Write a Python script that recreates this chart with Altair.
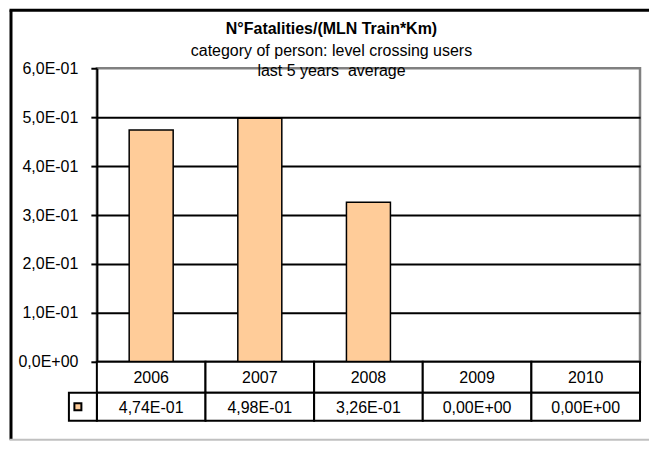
import altair as alt
import pandas as pd

# ---- data ----
years = ["2006", "2007", "2008", "2009", "2010"]
values = [0.474, 0.498, 0.326, 0.0, 0.0]
y_ticks = [0.0, 0.1, 0.2, 0.3, 0.4, 0.5, 0.6]
title_text = ["N°Fatalities/(MLN Train*Km)"]
subtitle_1 = ["category of person: level crossing users"]
subtitle_2 = ["last 5 years\u00a0 average"]
series = ["N°Fatalities/(MLN Train*Km)"]


def sci(v):
    return f"{v:.2e}".replace(".", ",").replace("e", "E")


df = pd.DataFrame({"year": years, "value": values, "label": [sci(v) for v in values]})
key_df = pd.DataFrame({"series": series})

W, H = 544, 294
ROW1, ROW2 = 31, 28
FONT = "Liberation Sans"
FS = 16
PEACH = "#FFCC99"

x = alt.X("year:N", sort=years, scale=alt.Scale(paddingInner=0, paddingOuter=0), axis=None)
y = alt.Y(
    "value:Q",
    scale=alt.Scale(domain=[0, 0.6], nice=False),
    axis=alt.Axis(
        values=y_ticks,
        labelExpr="datum.value == 0 ? '0,0E+00' : replace(format(datum.value * 10, '.1f'), '.', ',') + 'E-01'",
        grid=True,
        gridColor="black",
        gridWidth=2,
        gridOpacity={"condition": {"test": "datum.value > 0.55", "value": 0}, "value": 1},
        domainColor="black",
        domainWidth=2,
        tickColor="black",
        tickWidth=2,
        tickSize=6,
        labelPadding=13,
        labelFont=FONT,
        labelFontSize=FS,
        labelColor="black",
        title=None,
    ),
)

base = alt.Chart(df)

bars = base.mark_bar(width={"band": 0.405}, fill=PEACH, stroke="black", strokeWidth=1.5).encode(x=x, y=y)

year_cells = base.mark_rect(fill="white", stroke="black", strokeWidth=2).encode(
    x=x, y=alt.value(H), y2=alt.value(H + ROW1)
)
value_cells = base.mark_rect(fill="white", stroke="black", strokeWidth=2).encode(
    x=x, y=alt.value(H + ROW1), y2=alt.value(H + ROW1 + ROW2)
)
year_text = base.mark_text(font=FONT, fontSize=FS, color="black", baseline="middle").encode(
    x=x, y=alt.value(H + ROW1 / 2 + 1), text="year:N"
)
value_text = base.mark_text(font=FONT, fontSize=FS, color="black", baseline="middle").encode(
    x=x, y=alt.value(H + ROW1 + ROW2 / 2 + 1), text="label:N"
)

kbase = alt.Chart(key_df)
key_cell = kbase.mark_rect(fill="white", stroke="black", strokeWidth=2).encode(
    x=alt.value(-28), x2=alt.value(0), y=alt.value(H + ROW1), y2=alt.value(H + ROW1 + ROW2)
)
key_square = kbase.mark_point(
    shape="square", filled=True, fill=PEACH, stroke="black", strokeWidth=2, size=49, opacity=1
).encode(x=alt.value(-19), y=alt.value(H + ROW1 + ROW2 / 2), tooltip="series:N")

# title lines
tdf1 = pd.DataFrame({"t": title_text})
tdf2 = pd.DataFrame({"t": subtitle_1})
tdf3 = pd.DataFrame({"t": subtitle_2})
title1 = alt.Chart(tdf1).mark_text(font=FONT, fontSize=FS, fontWeight="bold", color="black", baseline="middle").encode(
    x=alt.value(235), y=alt.value(-39), text="t:N"
)
title2 = alt.Chart(tdf2).mark_text(font=FONT, fontSize=FS, color="black", baseline="middle").encode(
    x=alt.value(235), y=alt.value(-17), text="t:N"
)
title3 = alt.Chart(tdf3).mark_text(font=FONT, fontSize=FS, color="black", baseline="middle").encode(
    x=alt.value(235), y=alt.value(3), text="t:N"
)

# outer frame
frame_left = kbase.mark_rule(color="black", strokeWidth=3).encode(
    x=alt.value(-86), y=alt.value(-58), y2=alt.value(372)
)
frame_top = kbase.mark_rule(color="black", strokeWidth=3).encode(
    x=alt.value(-87.5), x2=alt.value(553), y=alt.value(-58)
)
frame_bottom = kbase.mark_rule(color="#c0c0c0", strokeWidth=2).encode(
    x=alt.value(-87.5), x2=alt.value(553), y=alt.value(372)
)

chart = (
    alt.layer(
        frame_left, frame_top, frame_bottom,
        bars, year_cells, value_cells, year_text, value_text, key_cell, key_square,
        title1, title2, title3,
    )
    .properties(width=W, height=H, padding=0, background="white")
    .configure_view(stroke="#808080", strokeWidth=2.5)
)

chart.save("out.html", embed_options={"renderer": "svg", "actions": False})
